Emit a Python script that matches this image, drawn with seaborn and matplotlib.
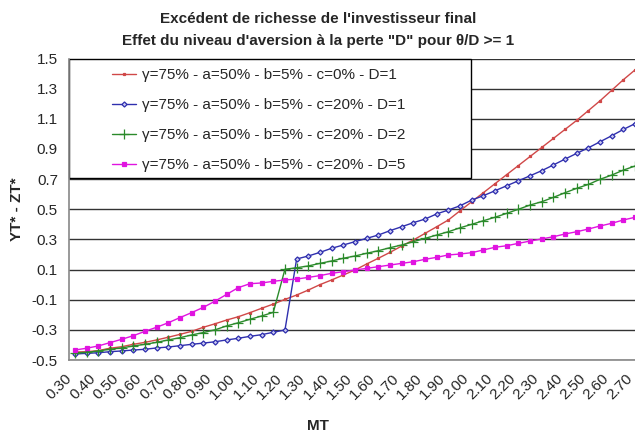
import matplotlib
matplotlib.use("Agg")
import numpy as np
import pandas as pd
import seaborn as sns
import matplotlib.pyplot as plt
import matplotlib.transforms as mtransforms
from matplotlib.patches import Rectangle

# categories on the x axis (MT)
mt_labels = ["0.30", "0.35", "0.40", "0.45", "0.50", "0.55", "0.60", "0.65", "0.70", "0.75",
             "0.80", "0.85", "0.90", "0.95", "1.00", "1.05", "1.10", "1.15", "1.20", "1.25",
             "1.30", "1.35", "1.40", "1.45", "1.50", "1.55", "1.60", "1.65", "1.70", "1.75",
             "1.80", "1.85", "1.90", "1.95", "2.00", "2.05", "2.10", "2.15", "2.20", "2.25",
             "2.30", "2.35", "2.40", "2.45", "2.50", "2.55", "2.60", "2.65", "2.70"]

# c=0%, D=1
red_vals = [-0.447, -0.445, -0.438, -0.422, -0.412, -0.396, -0.383, -0.367, -0.349, -0.330,
            -0.310, -0.283, -0.260, -0.235, -0.213, -0.186, -0.157, -0.129, -0.098, -0.069,
            -0.036, 0.000, 0.031, 0.064, 0.097, 0.137, 0.175, 0.214, 0.256, 0.296,
            0.340, 0.384, 0.429, 0.490, 0.550, 0.610, 0.670, 0.730, 0.790, 0.850,
            0.910, 0.970, 1.030, 1.090, 1.155, 1.220, 1.290, 1.360, 1.425]
# c=20%, D=1
blue_vals = [-0.460, -0.456, -0.452, -0.445, -0.440, -0.434, -0.429, -0.420, -0.414, -0.405,
             -0.396, -0.388, -0.379, -0.367, -0.356, -0.343, -0.332, -0.316, -0.301, 0.170,
             0.190, 0.214, 0.241, 0.263, 0.285, 0.307, 0.329, 0.358, 0.384, 0.411,
             0.435, 0.469, 0.495, 0.523, 0.561, 0.590, 0.623, 0.656, 0.689, 0.722,
             0.756, 0.794, 0.833, 0.871, 0.908, 0.948, 0.988, 1.030, 1.068]
# c=20%, D=2
green_vals = [-0.452, -0.450, -0.440, -0.429, -0.420, -0.407, -0.396, -0.383, -0.367, -0.352,
              -0.334, -0.318, -0.300, -0.274, -0.253, -0.230, -0.208, -0.184, 0.102, 0.112,
              0.124, 0.141, 0.157, 0.175, 0.190, 0.208, 0.225, 0.245, 0.263, 0.285,
              0.307, 0.329, 0.351, 0.377, 0.400, 0.424, 0.447, 0.473, 0.500, 0.528,
              0.550, 0.579, 0.610, 0.639, 0.665, 0.699, 0.727, 0.760, 0.787]
# c=20%, D=5
magenta_vals = [-0.434, -0.422, -0.407, -0.385, -0.363, -0.339, -0.310, -0.283, -0.253, -0.219,
                -0.186, -0.151, -0.110, -0.065, -0.020, 0.006, 0.011, 0.022, 0.031, 0.037,
                0.048, 0.060, 0.075, 0.086, 0.097, 0.108, 0.119, 0.130, 0.141, 0.152,
                0.168, 0.181, 0.197, 0.203, 0.212, 0.230, 0.248, 0.258, 0.274, 0.289,
                0.303, 0.318, 0.336, 0.351, 0.369, 0.389, 0.407, 0.429, 0.447]

series_labels = ["γ=75% - a=50% - b=5% - c=0% - D=1",
                 "γ=75% - a=50% - b=5% - c=20% - D=1",
                 "γ=75% - a=50% - b=5% - c=20% - D=2",
                 "γ=75% - a=50% - b=5% - c=20% - D=5"]
y_ticks = [-0.5, -0.3, -0.1, 0.1, 0.3, 0.5, 0.7, 0.9, 1.1, 1.3, 1.5]

sns.set_style("white")
plt.rcParams['font.family'] = ['Liberation Sans', 'DejaVu Sans']

pos = np.arange(len(mt_labels))
df = pd.DataFrame({"pos": pos, "red": red_vals, "blue": blue_vals,
                   "green": green_vals, "magenta": magenta_vals})

fig = plt.figure(figsize=(6.35, 4.42), dpi=100)
# plot area runs a little past the right edge of the picture (cropped like the original)
ax = fig.add_axes([69 / 635, 82 / 442, 572 / 635, 301.5 / 442])

styles = [
    ("red", "#d04848", dict(marker="s", markersize=2.0)),
    ("blue", "#2f2fae", dict(marker="D", markersize=2.6, markerfacecolor="#c8c8f0")),
    ("green", "#2b8a2b", dict(marker="+", markersize=7)),
    ("magenta", "#e014e0", dict(marker="s", markersize=2.2)),
]
for (col, color, mk), lab in zip(styles, series_labels):
    sns.lineplot(data=df, x="pos", y=col, ax=ax, color=color, linewidth=1.0,
                 label=lab, zorder=3, markeredgecolor=color, markeredgewidth=0.9, **mk)

ax.set_xlim(-0.5, len(mt_labels) - 0.5)
ax.set_ylim(-0.5, 1.5)

ax.set_yticks(y_ticks)
ax.set_yticklabels([f"{v:.1f}" for v in y_ticks], fontsize=11)
ax.set_xticks(pos[::2])
ax.set_xticklabels(mt_labels[::2], rotation=45, ha="right", rotation_mode="anchor", fontsize=11)
ax.set_xticks(np.arange(-0.5, len(mt_labels), 1.0), minor=True)
ax.tick_params(axis="x", which="major", length=0, pad=8)
ax.tick_params(axis="x", which="minor", length=5, width=1, color="#888888", direction="out")
ax.tick_params(axis="y", length=5, width=1, color="#555555", direction="out", pad=3)

# nudge the slanted labels to the left so the last one stays inside the picture
shift = mtransforms.ScaledTranslation(-10 / 100, 0, fig.dpi_scale_trans)
for t in ax.get_xticklabels():
    t.set_transform(t.get_transform() + shift)

ax.yaxis.grid(True, color="#333333", linewidth=1.0, zorder=0)
ax.xaxis.grid(False)
for s in ["top", "right"]:
    ax.spines[s].set_visible(False)
for s in ["left", "bottom"]:
    ax.spines[s].set_color("#888888")
    ax.spines[s].set_linewidth(1.2)

ax.set_xlabel("MT", fontsize=11, fontweight="bold")
ax.set_ylabel("YT* - ZT*", fontsize=11, fontweight="bold")
ax.xaxis.set_label_coords((318 - 69) / 572, -(419 - 360) / 301.5)
ax.yaxis.set_label_coords(-(69 - 24) / 572, 0.5)

# legend box over the top-left of the plot area
ax.add_patch(Rectangle((0, (360 - 178) / 301.5), (471 - 69) / 572, (178 - 58.5) / 301.5,
                       transform=ax.transAxes, facecolor="white", edgecolor="black",
                       linewidth=1.0, zorder=2.5, clip_on=False))
leg = ax.legend(loc="upper left", bbox_to_anchor=(112 / 635, 1 - 68 / 442),
                bbox_transform=fig.transFigure, frameon=False, fontsize=11,
                handlelength=1.6, handletextpad=0.35, labelspacing=1.05,
                borderpad=0, borderaxespad=0)
leg.set_zorder(5)

fig.text(318 / 635, 1 - 19 / 442, "Excédent de richesse de l'investisseur final",
         ha="center", va="center", fontsize=11, fontweight="bold")
fig.text(318 / 635, 1 - 41 / 442, "Effet du niveau d'aversion à la perte \"D\" pour θ/D >= 1",
         ha="center", va="center", fontsize=11, fontweight="bold")

fig.savefig("out.png", dpi=100)
